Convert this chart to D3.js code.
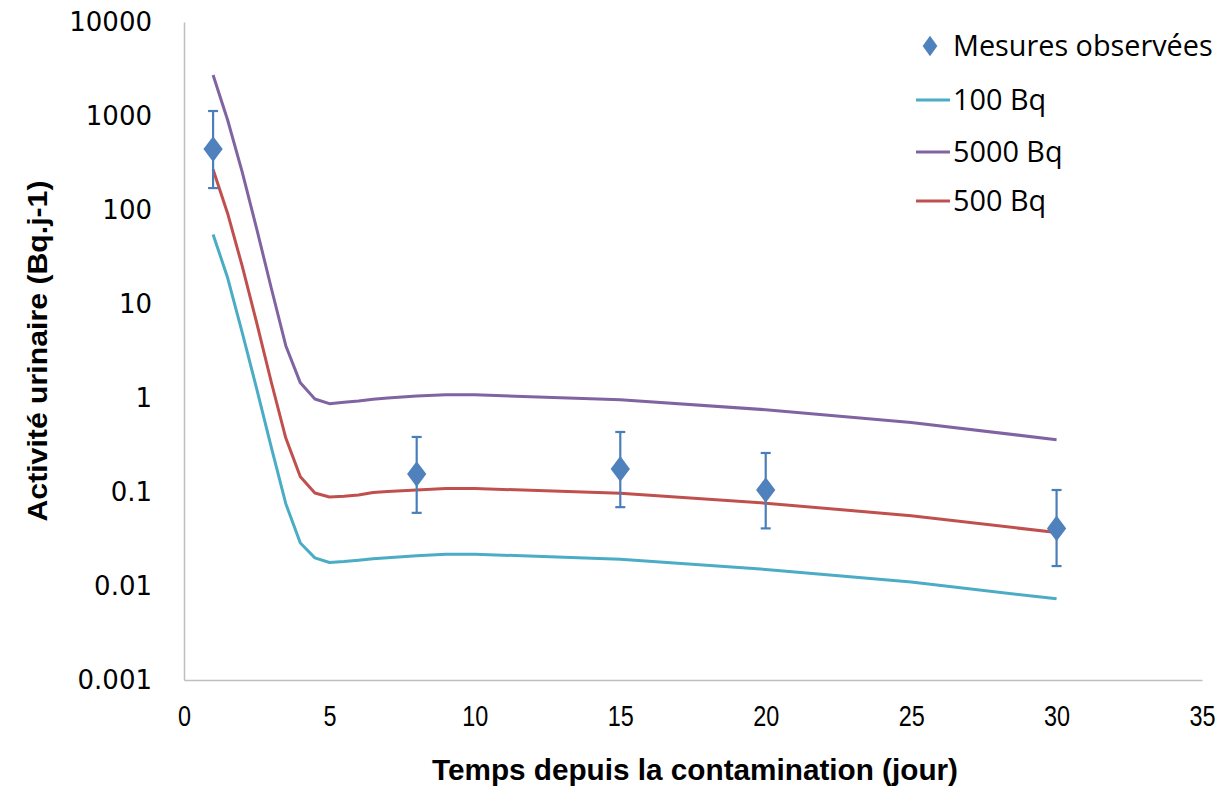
<!DOCTYPE html>
<html><head><meta charset="utf-8">
<script src="https://cdn.jsdelivr.net/npm/d3@7/dist/d3.min.js"></script>
<style>html,body{margin:0;padding:0;background:#fff;}svg{display:block;}</style>
</head><body><svg id="c" width="1226" height="788"></svg>
<script>
// ---- data ----
const times = [1,1.5,2,2.5,3,3.5,4,4.5,5,5.5,6,6.5,7,8,9,10,15,20,25,30];
const s100  = [55,19,5.0,1.25,0.30,0.075,0.0287,0.0199,0.0178,0.0182,0.0188,0.0195,0.020,0.021,0.0218,0.0218,0.0193,0.0150,0.0110,0.0073];
const s5000 = [2730,906,255,63,14.8,3.6,1.45,0.975,0.87,0.90,0.93,0.97,1.00,1.05,1.08,1.08,0.96,0.75,0.55,0.36];
const s500  = [270,92,25.4,6.3,1.48,0.375,0.145,0.0975,0.0885,0.090,0.093,0.099,0.101,0.105,0.109,0.109,0.097,0.076,0.056,0.037];
const obsT   = [1,8,15,20,30];
const obsV   = [445,0.155,0.176,0.105,0.041];
const obsHi  = [1130,0.385,0.435,0.26,0.105];
const obsLo  = [171,0.06,0.069,0.041,0.0163];
const xTicks = [0,5,10,15,20,25,30,35];
const yTicks = [0.001,0.01,0.1,1,10,100,1000,10000];
const yTickLabels = ["0.001","0.01","0.1","1","10","100","1000","10000"];
const seriesNames = ["Mesures observées","100 Bq","5000 Bq","500 Bq"];

const svg = d3.select("#c");
const L=184, R=1202, T=22, B=680;
const x = d3.scaleLinear().domain([0,35]).range([L,R]);
const y = d3.scaleLog().domain([0.001,10000]).range([B,T]);

// axes
const xAxis = svg.append("g").attr("transform",`translate(0,${B})`)
  .call(d3.axisBottom(x).tickValues(xTicks).tickSize(0).tickPadding(28));
xAxis.select(".domain").attr("stroke","#bfbfbf").attr("stroke-width",1.5);
xAxis.selectAll("text").attr("font-family","'Liberation Sans',sans-serif")
  .attr("font-size",30).attr("fill","#000").attr("dy","0.6em")
  .attr("transform","scale(0.78,1)");

const yAxis = svg.append("g").attr("transform",`translate(${L},0)`)
  .call(d3.axisLeft(y).tickValues(yTicks).tickFormat((d,i)=>yTickLabels[i]).tickSize(0).tickPadding(32));
yAxis.select(".domain").attr("stroke","#bfbfbf").attr("stroke-width",1.5);
yAxis.selectAll("text").attr("font-family","'DejaVu Sans',sans-serif")
  .attr("font-size",26).attr("fill","#000");

// titles
svg.append("text").attr("x",695).attr("y",780).attr("text-anchor","middle")
  .attr("font-family","'Liberation Sans',sans-serif").attr("font-weight","bold")
  .attr("font-size",30).attr("textLength",526).attr("lengthAdjust","spacingAndGlyphs")
  .text("Temps depuis la contamination (jour)");
svg.append("text").attr("transform","translate(47,351) rotate(-90)").attr("text-anchor","middle")
  .attr("font-family","'Liberation Sans',sans-serif").attr("font-weight","bold")
  .attr("font-size",28).attr("textLength",341).attr("lengthAdjust","spacingAndGlyphs")
  .text("Activité urinaire (Bq.j-1)");

// lines
const line = d3.line().x(d=>x(d[0])).y(d=>y(d[1]));
const series = [
  {v:s100, c:"#4bacc6"},
  {v:s5000, c:"#8064a2"},
  {v:s500, c:"#c0504d"}
];
series.forEach(s=>{
  svg.append("path").datum(times.map((t,i)=>[t,s.v[i]]))
    .attr("d",line).attr("fill","none").attr("stroke",s.c).attr("stroke-width",3)
    .attr("stroke-linejoin","round");
});

// observed points with error bars
const obs = obsT.map((t,i)=>({t,v:obsV[i],hi:obsHi[i],lo:obsLo[i]}));
const g = svg.append("g");
obs.forEach(d=>{
  const cx=x(d.t);
  g.append("line").attr("x1",cx).attr("x2",cx).attr("y1",y(d.hi)).attr("y2",y(d.lo))
    .attr("stroke","#4a7ebb").attr("stroke-width",2.2);
  [d.hi,d.lo].forEach(v=>g.append("line").attr("x1",cx-5).attr("x2",cx+5).attr("y1",y(v)).attr("y2",y(v))
    .attr("stroke","#4a7ebb").attr("stroke-width",2.2));
});
const diamond = d3.symbol().type(d3.symbolDiamond).size(190);
g.selectAll("path.pt").data(obs).join("path").attr("class","pt")
  .attr("transform",d=>`translate(${x(d.t)},${y(d.v)}) scale(1.3,1)`)
  .attr("d",diamond).attr("fill","#4f81bd");

// legend
const leg = svg.append("g");
const legY = [46,100,152,201];
const legC = [null,"#4bacc6","#8064a2","#c0504d"];
seriesNames.forEach((n,i)=>{
  if(i===0){
    leg.append("path").attr("transform",`translate(930,${legY[i]}) scale(1.25,1)`)
      .attr("d",d3.symbol().type(d3.symbolDiamond).size(120)).attr("fill","#4f81bd");
  } else {
    leg.append("line").attr("x1",916).attr("x2",950).attr("y1",legY[i]).attr("y2",legY[i])
      .attr("stroke",legC[i]).attr("stroke-width",3);
  }
  leg.append("text").attr("x",953).attr("y",legY[i]).attr("dy","0.36em")
    .attr("font-family","'Open Sans',sans-serif").attr("font-size",28.8).attr("fill","#000").text(n);
});
</script></body></html>
